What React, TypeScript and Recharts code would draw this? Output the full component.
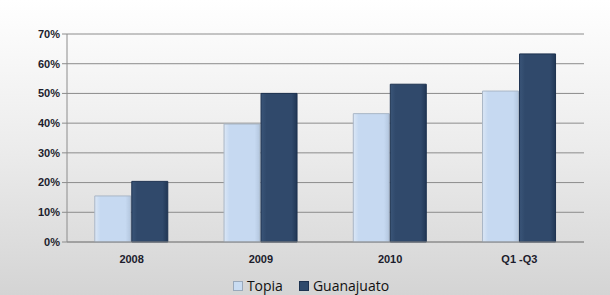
import React from "react";
import { BarChart, Bar, XAxis, YAxis, CartesianGrid, Legend } from "recharts";

const categories = ["2008", "2009", "2010", "Q1 -Q3"];
const topia = [15.5, 39.7, 43.2, 50.8];
const guanajuato = [20.4, 50.0, 53.1, 63.3];
const yTicks = [0, 10, 20, 30, 40, 50, 60, 70];

const data = categories.map((c, i) => ({ name: c, Topia: topia[i], Guanajuato: guanajuato[i] }));

const tickStyle = { fontFamily: "Liberation Sans, Arial, sans-serif", fontSize: 11, fontWeight: 700, fill: "#1c1c2c" };

const LegendContent = () => (
  <div style={{ display: "flex", justifyContent: "center", alignItems: "center", paddingLeft: 38, fontFamily: "Open Sans, Liberation Sans, sans-serif", fontSize: 14, color: "#111", lineHeight: "20px" }}>
    <span style={{ display: "inline-block", width: 8, height: 8, background: "#c9dcf2", border: "1px solid #9aa9bb", marginRight: 4 }} />
    <span style={{ marginRight: 16 }}>Topia</span>
    <span style={{ display: "inline-block", width: 8, height: 8, background: "#2f4a6c", border: "1px solid #1d3250", marginRight: 4 }} />
    <span>Guanajuato</span>
  </div>
);

export default function App() {
  return (
    <div style={{ position: "absolute", left: 0, top: 0, width: 610, height: 295, background: "linear-gradient(to bottom, #ffffff 0%, #ececec 50%, #d4d4d4 100%)" }}>
      <BarChart width={610} height={295} data={data} margin={{ top: 34, right: 26, bottom: 0, left: 0 }} barGap={1} barCategoryGap="21.5%">
        <defs>
          <linearGradient id="gT" x1="0" y1="0" x2="1" y2="0">
            <stop offset="0%" stopColor="#dbe7f6" />
            <stop offset="15%" stopColor="#c6d9f1" />
            <stop offset="85%" stopColor="#c6d9f1" />
            <stop offset="100%" stopColor="#b3c6de" />
          </linearGradient>
          <linearGradient id="gG" x1="0" y1="0" x2="1" y2="0">
            <stop offset="0%" stopColor="#3a5578" />
            <stop offset="15%" stopColor="#30496b" />
            <stop offset="85%" stopColor="#30496b" />
            <stop offset="100%" stopColor="#213755" />
          </linearGradient>
        </defs>
        <CartesianGrid vertical={false} stroke="#8c8c8c" strokeWidth={1} />
        <XAxis dataKey="name" axisLine={{ stroke: "#8c8c8c" }} tickLine={false} tick={tickStyle} tickMargin={7} height={28} />
        <YAxis
          domain={[0, 70]}
          ticks={yTicks}
          tickFormatter={(v: number) => `${v}%`}
          axisLine={{ stroke: "#8c8c8c" }}
          tickLine={{ stroke: "#8c8c8c" }}
          tickSize={5}
          tick={tickStyle}
          width={67}
          interval={0}
        />
        <Legend verticalAlign="bottom" height={25} wrapperStyle={{ top: 276, bottom: "auto" }} content={<LegendContent />} />
        <Bar dataKey="Topia" fill="url(#gT)" stroke="#a9b6c6" strokeWidth={1} isAnimationActive={false} />
        <Bar dataKey="Guanajuato" fill="url(#gG)" stroke="#1d3250" strokeWidth={1} isAnimationActive={false} />
      </BarChart>
    </div>
  );
}
